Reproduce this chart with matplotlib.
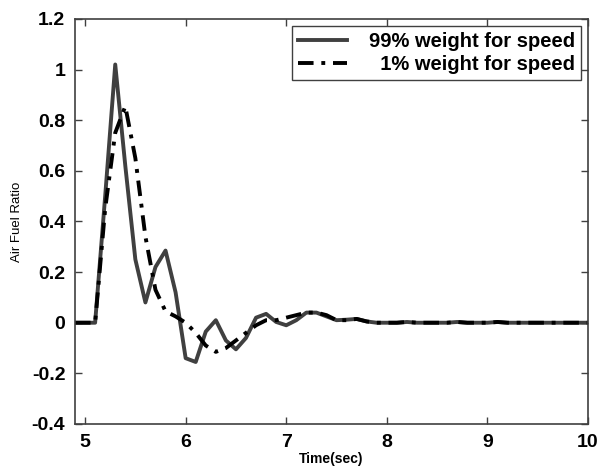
import matplotlib
matplotlib.use("Agg")
import matplotlib.pyplot as plt
import numpy as np

plt.rcParams['font.family'] = ['Liberation Sans', 'DejaVu Sans']

time = [4.9, 5.0, 5.1, 5.2, 5.3, 5.4, 5.5, 5.6, 5.7, 5.8, 5.9, 6.0, 6.1, 6.2, 6.3, 6.4,
        6.5, 6.6, 6.7, 6.8, 6.9, 7.0, 7.1, 7.2, 7.3, 7.4, 7.5, 7.6, 7.7, 7.8, 7.9,
        8.0, 8.1, 8.2, 8.3, 8.4, 8.5, 8.6, 8.7, 8.8, 8.9, 9.0, 9.1, 9.2, 9.3, 9.4,
        9.5, 9.6, 9.7, 9.8, 9.9, 10.0]
afr_99 = [0.0, 0.0, 0.0, 0.5, 1.02, 0.62, 0.25, 0.08, 0.22, 0.285, 0.12, -0.14, -0.155,
          -0.035, 0.01, -0.07, -0.105, -0.06, 0.02, 0.035, 0.003, -0.01, 0.01, 0.04,
          0.04, 0.025, 0.01, 0.012, 0.015, 0.005, 0.0, 0.0, 0.0, 0.003, 0.0, 0.0, 0.0,
          0.0, 0.003, 0.0, 0.0, 0.0, 0.003, 0.0, 0.0, 0.0, 0.0, 0.0, 0.0, 0.0, 0.0, 0.0]
afr_1 = [0.0, 0.0, 0.0, 0.45, 0.75, 0.855, 0.65, 0.34, 0.13, 0.045, 0.025, 0.0, -0.04,
         -0.09, -0.115, -0.10, -0.07, -0.04, -0.01, 0.01, 0.01, 0.02, 0.03, 0.04, 0.04,
         0.03, 0.01, 0.01, 0.015, 0.005, 0.0, 0.0, 0.0, 0.003, 0.0, 0.0, 0.0, 0.0, 0.003,
         0.0, 0.0, 0.0, 0.003, 0.0, 0.0, 0.0, 0.0, 0.0, 0.0, 0.0, 0.0, 0.0]
labels = ["99% weight for speed", "\u20071% weight for speed"]
xticks = [5, 6, 7, 8, 9, 10]
yticks = [-0.4, -0.2, 0, 0.2, 0.4, 0.6, 0.8, 1, 1.2]
yticklabels = ["-0.4", "-0.2", "0", "0.2", "0.4", "0.6", "0.8", "1", "1.2"]

fig = plt.figure(figsize=(6, 4.73), dpi=100)
ax = fig.add_axes([0.125, 0.1036, 0.855, 0.8564])
ax.plot(time, afr_99, color='#404040', lw=2.8, label=labels[0])
ax.plot(time, afr_1, color='black', lw=2.8, ls='-.', dashes=(4, 2, 1, 2), label=labels[1])
ax.set_xlim(4.9, 10)
ax.set_ylim(-0.4, 1.2)
ax.set_xticks(xticks)
ax.set_xticklabels([str(t) for t in xticks], fontsize=14, fontweight='bold')
ax.set_yticks(yticks)
ax.set_yticklabels(yticklabels, fontsize=14, fontweight='bold')
ax.tick_params(direction='in', top=True, right=True, length=5, width=1, color='#404040', pad=7)
for s in ax.spines.values():
    s.set_color('#404040')
    s.set_linewidth(1.2)
ax.set_xlabel("Time(sec)", fontsize=10, fontweight='bold', labelpad=1)
ax.set_ylabel("Air Fuel Ratio", fontsize=9.5, labelpad=6)
leg = ax.legend(loc='upper right', prop={'weight': 'bold', 'size': 14.5},
                fancybox=False, edgecolor='#404040', framealpha=1, handlelength=2.4,
                borderaxespad=0.35, handletextpad=1.1, borderpad=0.3, labelspacing=0.2)
leg.get_frame().set_linewidth(1.0)
fig.savefig("out.png", dpi=100)
